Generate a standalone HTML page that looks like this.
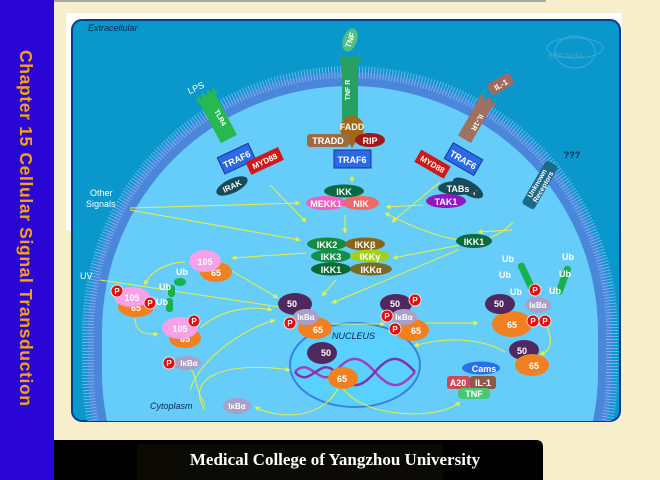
<!DOCTYPE html>
<html><head><meta charset="utf-8"><style>
html,body{margin:0;padding:0;width:660px;height:480px;overflow:hidden;background:#f7efcc;}
</style></head><body>
<svg width="660" height="480" viewBox="0 0 660 480" xmlns="http://www.w3.org/2000/svg" style="position:absolute;left:0;top:0">
<defs>
<marker id="a" viewBox="0 0 10 10" refX="9" refY="5" markerWidth="5" markerHeight="5" orient="auto"><path d="M0,0L10,5L0,10z" fill="#e8f040"/></marker>
<clipPath id="pc"><rect x="72" y="20" width="548" height="401" rx="10"/></clipPath>
</defs>
<rect x="0" y="0" width="660" height="480" fill="#f7efcc"/>
<rect x="54" y="0" width="492" height="2" fill="#a8a8a0"/>
<rect x="0" y="0" width="54" height="480" fill="#2a06d6"/>
<text transform="translate(20,50) rotate(90)" font-family="Liberation Sans,sans-serif" font-weight="bold" font-size="17.5" fill="#ffa010" textLength="356">Chapter 15 Cellular Signal Transduction</text>
<rect x="66" y="13" width="556" height="218" fill="#fff"/>
<rect x="72" y="20" width="548" height="401" rx="10" fill="#0a98cc" stroke="#0a3a90" stroke-width="2"/>
<g clip-path="url(#pc)">
<rect x="88" y="72" width="524" height="560" rx="262" ry="260" fill="#4a86da"/>
<rect x="88" y="72" width="524" height="560" rx="262" ry="260" fill="none" stroke="#7ab0f0" stroke-width="12" stroke-dasharray="1 2" transform="translate(0,0)"/>
<rect x="102" y="86" width="496" height="532" rx="248" ry="246" fill="#66ccfa"/>
</g>
<g font-family="Liberation Sans,sans-serif" font-style="italic" font-size="9" fill="#0a2a50">
<text x="88" y="31">Extracellular</text>
<text x="150" y="409">Cytoplasm</text>
</g>
<!-- BioCarta logo -->
<g opacity="0.35" stroke="#9ce" fill="none"><ellipse cx="575" cy="48" rx="28" ry="10"/><ellipse cx="575" cy="52" rx="20" ry="16"/></g>
<text x="548" y="58" font-family="Liberation Sans,sans-serif" font-size="7" fill="#6ab" opacity="0.6">BIOCARTA</text>

<!-- nucleus -->
<ellipse cx="355" cy="365" rx="65" ry="42" fill="#5ad0ff" stroke="#3a80e0" stroke-width="2"/>
<text x="332" y="339" font-family="Liberation Sans,sans-serif" font-style="italic" font-size="9" fill="#0a2050">NUCLEUS</text>
<path d="M295,372 C310,355 320,390 335,372 S360,355 375,372 S400,390 415,372" stroke="#a040c0" stroke-width="2.5" fill="none"/>
<path d="M295,372 C310,390 320,355 335,372 S360,390 375,372 S400,355 415,372" stroke="#8030b0" stroke-width="2.5" fill="none"/>

<!-- arrows -->
<g stroke="#e8f040" stroke-width="1" fill="none" marker-end="url(#a)">
<path d="M270,185 L306,222"/>
<path d="M352,176 L352,182"/>
<path d="M440,182 L392,222"/>
<path d="M453,190 L453,208"/>
<path d="M130,208 L300,203"/>
<path d="M130,210 L300,240"/>
<path d="M423,205 L386,207"/>
<path d="M513,222 C480,260 420,230 385,213"/>
<path d="M512,230 L478,232"/>
<path d="M100,280 L300,310"/>
<path d="M345,215 L345,233"/>
<path d="M460,245 L393,258"/>
<path d="M458,250 L332,303"/>
<path d="M336,280 L322,296"/>
<path d="M306,253 L232,258"/>
<path d="M230,270 L278,298"/>
<path d="M185,262 C170,262 150,270 145,285"/>
<path d="M135,318 C135,332 145,335 158,334"/>
<path d="M200,328 C220,310 250,305 272,310"/>
<path d="M190,390 C200,360 240,330 275,320"/>
<path d="M332,324 L385,324"/>
<path d="M418,323 L478,323"/>
<path d="M545,322 C555,345 550,350 540,355"/>
<path d="M505,352 C485,340 450,335 414,346"/>
<path d="M340,384 C325,420 280,420 255,407"/>
<path d="M340,384 C360,420 440,420 460,402"/>
<path d="M205,405 C190,380 200,365 180,368"/>
<path d="M205,410 C185,380 220,360 290,370"/>
</g>

<g font-family="Liberation Sans,sans-serif" font-weight="bold" font-size="9" fill="#fff" text-anchor="middle">
<!-- LPS receptor -->
<text x="196" y="91" fill="#fff" font-weight="normal" transform="rotate(-25 196 88)">LPS</text>
<g transform="rotate(-28 220 120)"><rect x="210" y="95" width="18" height="46" fill="#28b850"/><path d="M208,95 l3,-8 3,6 3,-6 3,6 3,-6 3,6 3,-6 2,8z" fill="#28b850"/><text x="219" y="118" font-size="7" transform="rotate(90 219 118)">TLR4</text></g>
<g transform="rotate(-25 236 160)"><rect x="220" y="150" width="34" height="18" fill="#2a6ae8" stroke="#103a90"/><text x="237" y="163">TRAF6</text></g>
<g transform="rotate(-25 262 160)"><rect x="246" y="155" width="36" height="14" fill="#d01818"/><text x="264" y="165" font-size="8">MYD88</text></g>
<g transform="rotate(-25 232 186)"><ellipse cx="232" cy="186" rx="17" ry="7" fill="#1a4a5a"/><text x="232" y="189" font-size="8">IRAK</text></g>
<!-- TNF receptor -->
<g transform="rotate(-70 350 40)"><ellipse cx="350" cy="40" rx="12" ry="7" fill="#50c080"/><text x="350" y="43" font-size="8">TNF</text></g>
<rect x="342" y="62" width="16" height="58" fill="#28a060"/><path d="M339,62 l2,-8 3,5 3,-5 3,5 3,-5 3,5 3,-5 2,8z" fill="#28a060"/>
<text x="350" y="90" font-size="7" transform="rotate(-90 350 90)">TNF R</text>
<circle cx="352" cy="128" r="12" fill="#a0681a"/><path d="M345,137 L352,148 L359,137z" fill="#a0681a"/>
<text x="352" y="130">FADD</text>
<rect x="307" y="134" width="42" height="13" rx="3" fill="#a06a40"/><text x="328" y="144">TRADD</text>
<ellipse cx="370" cy="140" rx="15" ry="7" fill="#a01818"/><text x="370" y="144">RIP</text>
<rect x="334" y="150" width="37" height="18" fill="#2a6ae8" stroke="#103a90"/><text x="352" y="163">TRAF6</text>
<!-- IL-1 receptor -->
<g transform="rotate(-30 500 85)"><rect x="488" y="78" width="26" height="13" rx="4" fill="#a06a60"/><text x="501" y="88" font-size="8">IL-1</text></g>
<g transform="rotate(30 475 120)"><rect x="468" y="100" width="15" height="42" fill="#a07060"/><path d="M466,100 l3,-8 4,6 4,-6 4,6 3,-6 1,8z" fill="#a07060"/><text x="476" y="121" font-size="7" transform="rotate(90 476 121)">IL-1R</text></g>
<g transform="rotate(30 463 160)"><rect x="446" y="150" width="34" height="18" fill="#2a6ae8" stroke="#103a90"/><text x="463" y="163">TRAF6</text></g>
<g transform="rotate(30 432 165)"><rect x="415" y="157" width="34" height="14" fill="#d01818"/><text x="432" y="167" font-size="8">MYD88</text></g>
<g transform="rotate(30 468 188)"><ellipse cx="468" cy="188" rx="17" ry="7" fill="#1a4a5a"/><text x="468" y="191" font-size="8">IRAK</text></g>
<!-- unknown receptors -->
<g transform="rotate(-60 540 185)"><rect x="515" y="178" width="50" height="14" rx="3" fill="#1a6a8a"/><text x="540" y="184" font-size="7">Unknown</text><text x="540" y="191" font-size="7">Receptors</text></g>
<text x="572" y="158" fill="#0a2a50" font-size="9">???</text>
<!-- IKK/MEKK1/NIK -->
<ellipse cx="344" cy="191" rx="20" ry="6.5" fill="#0a6a40"/><text x="344" y="195">IKK</text>
<ellipse cx="326" cy="203" rx="20" ry="7" fill="#f060c0"/><text x="326" y="207">MEKK1</text>
<ellipse cx="361" cy="203" rx="18" ry="7" fill="#f06868"/><text x="361" y="207">NIK</text>
<ellipse cx="458" cy="188" rx="20" ry="7" fill="#1a4a5a"/><text x="458" y="192">TABs</text>
<ellipse cx="446" cy="201" rx="20" ry="7" fill="#9018c0"/><text x="446" y="205">TAK1</text>
<!-- IKK complex -->
<ellipse cx="327" cy="244" rx="20" ry="6.5" fill="#188a40"/><text x="327" y="248">IKK2</text>
<ellipse cx="365" cy="244" rx="20" ry="6.5" fill="#8a6418"/><text x="365" y="248">IKKβ</text>
<ellipse cx="331" cy="256" rx="20" ry="6.5" fill="#10904a"/><text x="331" y="260">IKK3</text>
<ellipse cx="370" cy="256" rx="20" ry="6.5" fill="#a0d020"/><text x="370" y="260">IKKγ</text>
<ellipse cx="331" cy="269" rx="20" ry="6.5" fill="#0a6a30"/><text x="331" y="273">IKK1</text>
<ellipse cx="371" cy="269" rx="21" ry="6.5" fill="#7a6a28"/><text x="371" y="273">IKKα</text>
<ellipse cx="474" cy="241" rx="18" ry="7" fill="#0a6a40"/><text x="474" y="245">IKK1</text>
<!-- 105/65 -->
<ellipse cx="216" cy="272" rx="16" ry="10" fill="#f08020"/><text x="216" y="276">65</text>
<ellipse cx="205" cy="261" rx="16" ry="11" fill="#f8a0e8"/><text x="205" y="265">105</text>
<ellipse cx="136" cy="307" rx="18" ry="10" fill="#f08020"/><text x="136" y="311">65</text>
<ellipse cx="132" cy="297" rx="18" ry="10" fill="#f8a0e8"/><text x="132" y="301">105</text>
<ellipse cx="185" cy="338" rx="16" ry="10" fill="#f08020"/><text x="185" y="342">65</text>
<ellipse cx="180" cy="328" rx="18" ry="11" fill="#f8a0e8"/><text x="180" y="332">105</text>
<ellipse cx="180" cy="282" rx="6" ry="4" fill="#18b050"/><text x="182" y="275">Ub</text>
<rect x="168" y="285" width="7" height="12" rx="3" fill="#18b050"/><text x="165" y="290">Ub</text>
<rect x="166" y="298" width="7" height="14" rx="3" fill="#18b050"/><text x="162" y="305">Ub</text>
<!-- complex 1 -->
<ellipse cx="315" cy="328" rx="17" ry="11" fill="#f08020"/><text x="318" y="333">65</text>
<ellipse cx="295" cy="304" rx="17" ry="11" fill="#502860"/><text x="292" y="307">50</text>
<ellipse cx="306" cy="317" rx="13" ry="8" fill="#a8a0c8"/><text x="306" y="320" font-size="8">IκBα</text>
<!-- complex 2 -->
<ellipse cx="412" cy="330" rx="17" ry="11" fill="#f08020"/><text x="416" y="334">65</text>
<ellipse cx="396" cy="304" rx="16" ry="10" fill="#502860"/><text x="395" y="307">50</text>
<ellipse cx="404" cy="317" rx="13" ry="8" fill="#a8a0c8"/><text x="404" y="320" font-size="8">IκBα</text>
<!-- complex 3 -->
<ellipse cx="512" cy="324" rx="20" ry="13" fill="#f08020"/><text x="512" y="328">65</text>
<ellipse cx="500" cy="304" rx="15" ry="10" fill="#502860"/><text x="499" y="307">50</text>
<ellipse cx="538" cy="305" rx="13" ry="8" fill="#a8a0c8"/><text x="538" y="308" font-size="8">IκBα</text>
<g fill="#18b050"><rect x="523" y="262" width="7" height="30" rx="3" transform="rotate(-25 526 277)"/><rect x="560" y="265" width="7" height="30" rx="3" transform="rotate(20 563 280)"/></g>
<text x="508" y="262">Ub</text><text x="505" y="278">Ub</text><text x="516" y="295">Ub</text>
<text x="568" y="260">Ub</text><text x="565" y="277">Ub</text><text x="555" y="294">Ub</text>
<!-- nucleus 50/65 -->
<ellipse cx="322" cy="353" rx="15" ry="11" fill="#502860"/><text x="326" y="356">50</text>
<ellipse cx="343" cy="378" rx="15" ry="11" fill="#f08020"/><text x="342" y="382">65</text>
<!-- right 50/65 -->
<ellipse cx="524" cy="350" rx="15" ry="10" fill="#502860"/><text x="522" y="354">50</text>
<ellipse cx="532" cy="365" rx="17" ry="11" fill="#f08020"/><text x="534" y="369">65</text>
<!-- genes -->
<ellipse cx="481" cy="368" rx="19" ry="6.5" fill="#2a70e8"/><text x="484" y="372">Cams</text>
<rect x="447" y="376" width="23" height="13" rx="3" fill="#d04858"/><text x="458" y="386">A20</text>
<rect x="470" y="376" width="26" height="13" rx="3" fill="#905848"/><text x="483" y="386">IL-1</text>
<rect x="458" y="388" width="32" height="11" rx="4" fill="#48c870"/><text x="474" y="397">TNF</text>
<ellipse cx="187" cy="363" rx="14" ry="7" fill="#a8a0c8"/><text x="189" y="366" font-size="8">IκBα</text>
<ellipse cx="237" cy="406" rx="14" ry="8" fill="#a8a0c8"/><text x="237" y="409" font-size="8">IκBα</text>
</g>
<!-- phosphates -->
<g font-family="Liberation Sans,sans-serif" font-weight="bold" font-size="8" fill="#fff" text-anchor="middle">
<g fill="#e01010" stroke="#fff" stroke-width="0.8">
<circle cx="117" cy="291" r="6"/><circle cx="150" cy="303" r="6"/><circle cx="194" cy="321" r="6"/>
<circle cx="290" cy="323" r="6"/><circle cx="415" cy="300" r="6"/><circle cx="387" cy="316" r="6"/><circle cx="395" cy="329" r="6"/>
<circle cx="535" cy="290" r="6"/><circle cx="533" cy="321" r="6"/><circle cx="545" cy="321" r="6"/><circle cx="169" cy="363" r="6"/>
</g>
<text x="117" y="294">P</text><text x="150" y="306">P</text><text x="194" y="324">P</text><text x="290" y="326">P</text><text x="415" y="303">P</text><text x="387" y="319">P</text><text x="395" y="332">P</text><text x="535" y="293">P</text><text x="533" y="324">P</text><text x="545" y="324">P</text><text x="169" y="366">P</text>
</g>
<g font-family="Liberation Sans,sans-serif" font-size="9" fill="#fff">
<text x="90" y="196">Other</text><text x="86" y="207">Signals</text>
<text x="80" y="279">UV</text>
</g>
<!-- bottom bar -->
<path d="M54,440 H536 Q543,440 543,447 V480 H54z" fill="#000"/>
<rect x="137" y="444" width="306" height="36" fill="#0c0a04"/>
<text x="335" y="465" text-anchor="middle" font-family="Liberation Serif,serif" font-weight="bold" font-size="17" fill="#fff">Medical College of Yangzhou University</text>
</svg>
</body></html>
